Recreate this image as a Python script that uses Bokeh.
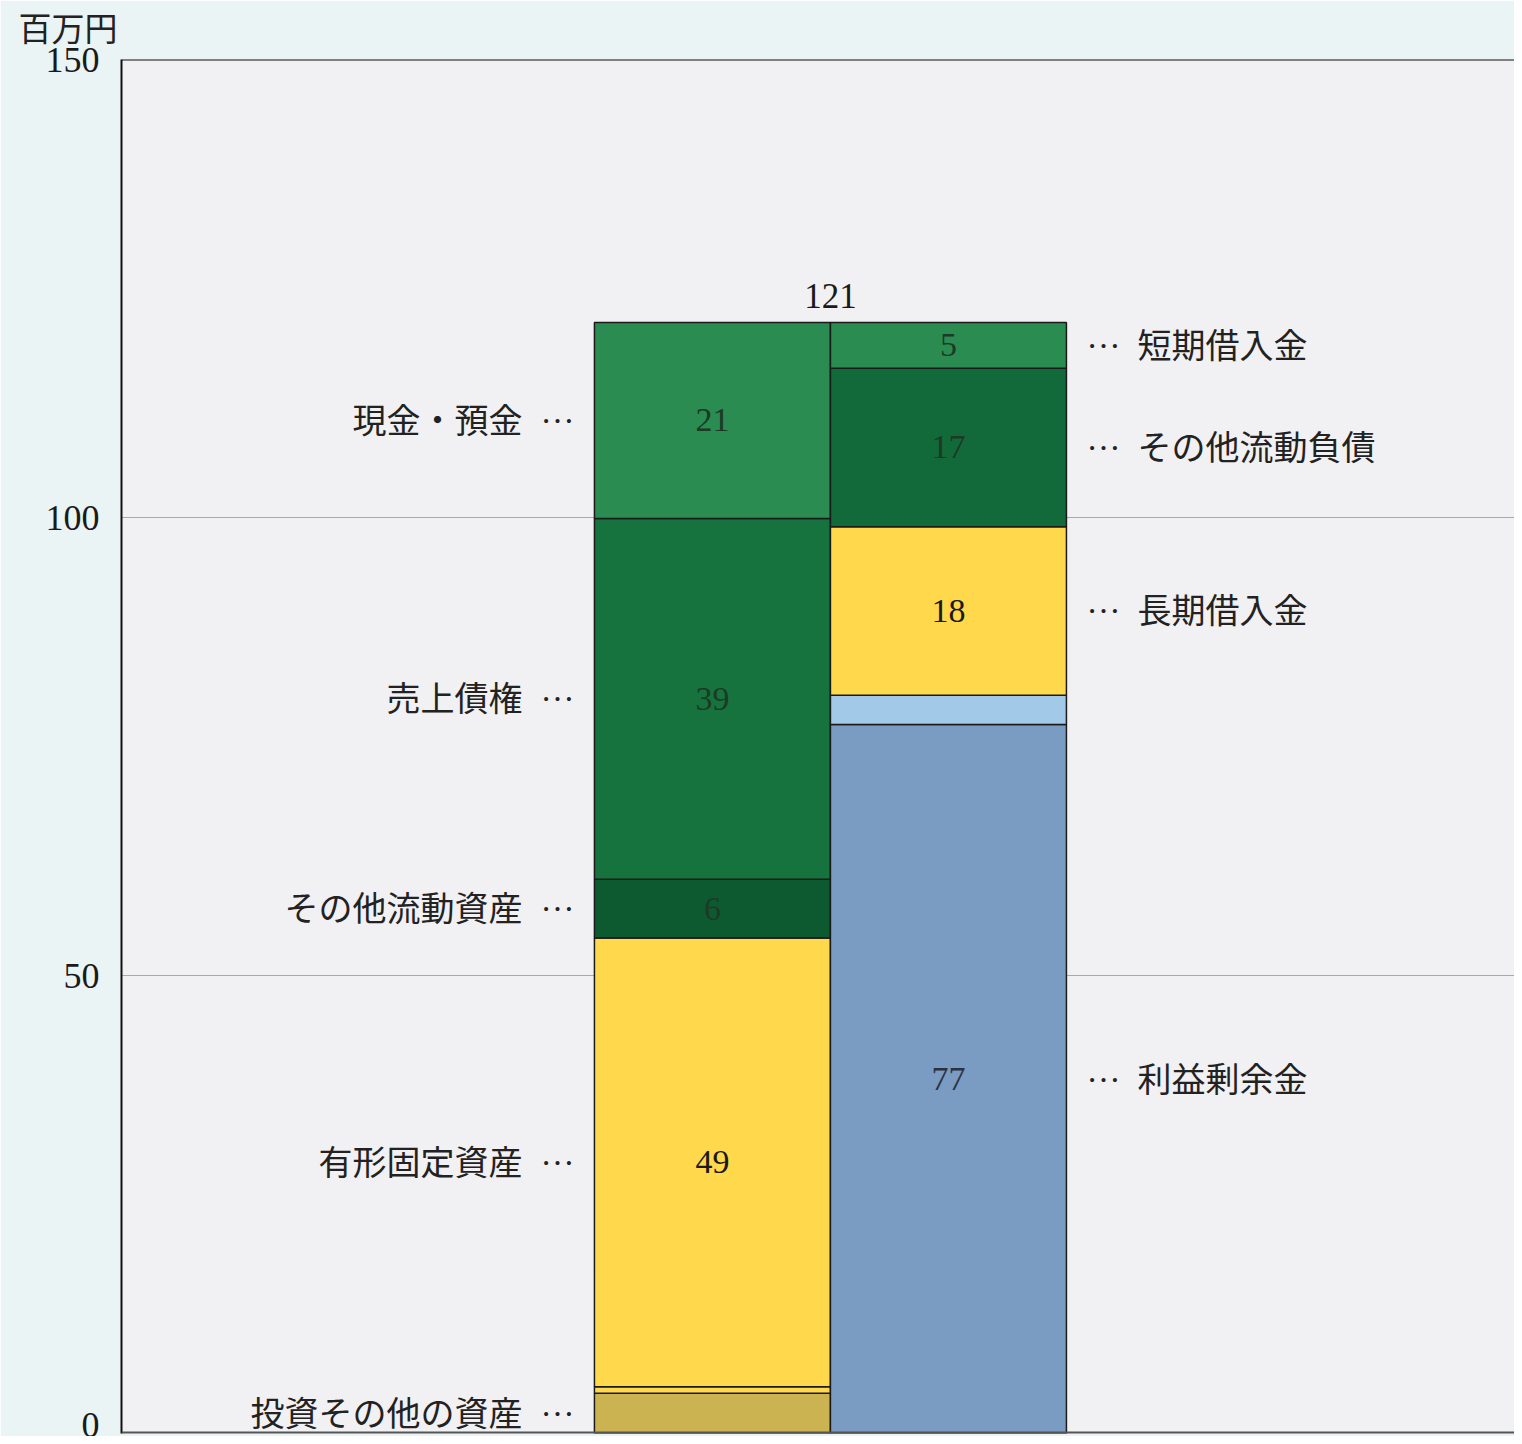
import numpy as np
from bokeh.plotting import figure
from bokeh.models import ColumnDataSource, Range1d, FixedTicker, Span, Title
from bokeh.core.properties import value
from bokeh.embed import file_html
from bokeh.resources import INLINE

# ---- data ----
unit_label = "百万円"
y_ticks = [0, 50, 100, 150]

asset_items = ["投資その他の資産", "無形固定資産", "有形固定資産", "その他流動資産", "売上債権", "現金・預金"]
asset_values = [4.4, 0.7, 49.0, 6.4, 39.4, 21.4]
asset_name_shown = [True, False, True, True, True, True]
asset_value_shown = [False, False, True, True, True, True]

liab_items = ["利益剰余金", "資本金", "長期借入金", "その他流動負債", "短期借入金"]
liab_values = [77.4, 3.2, 18.4, 17.3, 5.0]
liab_name_shown = [True, False, True, True, True]
liab_value_shown = [True, False, True, True, True]

# ---- styles ----
asset_colors = ["#ccb352", "#ffd84c", "#ffd84c", "#0e5a30", "#16733e", "#2a8c50"]
asset_text_colors = ["#222222", "#222222", "#1a1a1a", "#1c3a26", "#1c3a26", "#1c3a26"]
liab_colors = ["#7a9bc2", "#a2c9e8", "#ffd84c", "#126a3a", "#2a8c50"]
liab_text_colors = ["#2a3242", "#222222", "#1a1a1a", "#1c3a26", "#1c3a26"]

SERIF = value("Liberation Serif")
CJK = value("Noto Sans CJK JP")

p = figure(width=1514, height=1436, output_backend="svg", toolbar_location=None,
           x_range=Range1d(-2.504, 3.3986), y_range=Range1d(0, 150),
           min_border_left=121, min_border_top=59, min_border_bottom=3, min_border_right=0)
p.border_fill_color = "#eaf4f5"
p.background_fill_color = "#f1f0f3"
p.outline_line_color = None
p.xaxis.visible = False
p.xgrid.visible = False
p.ygrid.ticker = FixedTicker(ticks=y_ticks)
p.ygrid.grid_line_color = "#a8a8a8"
p.ygrid.grid_line_width = 1.2
p.yaxis.ticker = FixedTicker(ticks=y_ticks)
p.yaxis.major_tick_line_color = None
p.yaxis.minor_tick_line_color = None
p.yaxis.axis_line_color = "#111111"
p.yaxis.axis_line_width = 2
p.yaxis.major_label_text_font = "Liberation Serif"
p.yaxis.major_label_text_font_size = "36px"
p.yaxis.major_label_text_color = "#1a1a1a"
p.yaxis.major_label_standoff = 16

t = Title(text=unit_label, align="left", offset=-103, standoff=17, vertical_align="top",
          text_font="DejaVu Sans, Noto Sans CJK JP", text_font_size="33px",
          text_font_style="normal", text_color="#222222")
p.add_layout(t, "above")

p.add_layout(Span(location=150, dimension="width", line_color="#111111", line_width=2))
p.add_layout(Span(location=0, dimension="width", line_color="#555555", line_width=4))


def draw_column(xc, items, vals, colors, tcolors, name_shown, value_shown, dots_x, name_x, side):
    vals = np.array(vals, dtype=float)
    tops = np.cumsum(vals)
    bottoms = tops - vals
    mids = (tops + bottoms) / 2
    src = ColumnDataSource(dict(x=[xc] * len(vals), bottom=bottoms, top=tops, color=colors))
    p.vbar(x="x", width=1.0, bottom="bottom", top="top", source=src,
           fill_color="color", line_color="#1a1a1a", line_width=1.5)
    vi = [i for i in range(len(vals)) if value_shown[i]]
    vsrc = ColumnDataSource(dict(x=[xc] * len(vi), y=[mids[i] for i in vi],
                                 t=[str(int(round(vals[i]))) for i in vi],
                                 c=[tcolors[i] for i in vi]))
    p.text(x="x", y="y", text="t", source=vsrc, text_color="c", text_font=SERIF,
           text_font_size="34px", text_align="center", text_baseline="middle")
    ni = [i for i in range(len(vals)) if name_shown[i]]
    align = "right" if side == "left" else "left"
    nsrc = ColumnDataSource(dict(x=[name_x] * len(ni), y=[mids[i] for i in ni],
                                 t=[items[i] for i in ni]))
    p.text(x="x", y="y", text="t", source=nsrc, text_color="#222222",
           text_font=CJK, text_font_size="34px", y_offset=-2,
           text_align=align, text_baseline="middle")
    dsrc = ColumnDataSource(dict(x=[dots_x] * len(ni), y=[mids[i] for i in ni],
                                 t=["…"] * len(ni)))
    p.text(x="x", y="y", text="t", source=dsrc, text_color="#222222",
           text_font=SERIF, text_font_size="34px", y_offset=-9,
           text_align=align, text_baseline="middle")
    return tops[-1]


total_a = draw_column(0, asset_items, asset_values, asset_colors, asset_text_colors,
                      asset_name_shown, asset_value_shown, -0.585, -0.805, "left")
total_l = draw_column(1, liab_items, liab_values, liab_colors, liab_text_colors,
                      liab_name_shown, liab_value_shown, 1.585, 1.801, "right")

total = max(total_a, total_l)
tsrc = ColumnDataSource(dict(x=[0.5], y=[total], t=[str(int(round(total)))]))
p.text(x="x", y="y", text="t", source=tsrc, text_color="#1a1a1a", text_font=SERIF,
       text_font_size="35px", text_align="center", text_baseline="middle", y_offset=-26)

open("out.html", "w").write(file_html(p, INLINE))
